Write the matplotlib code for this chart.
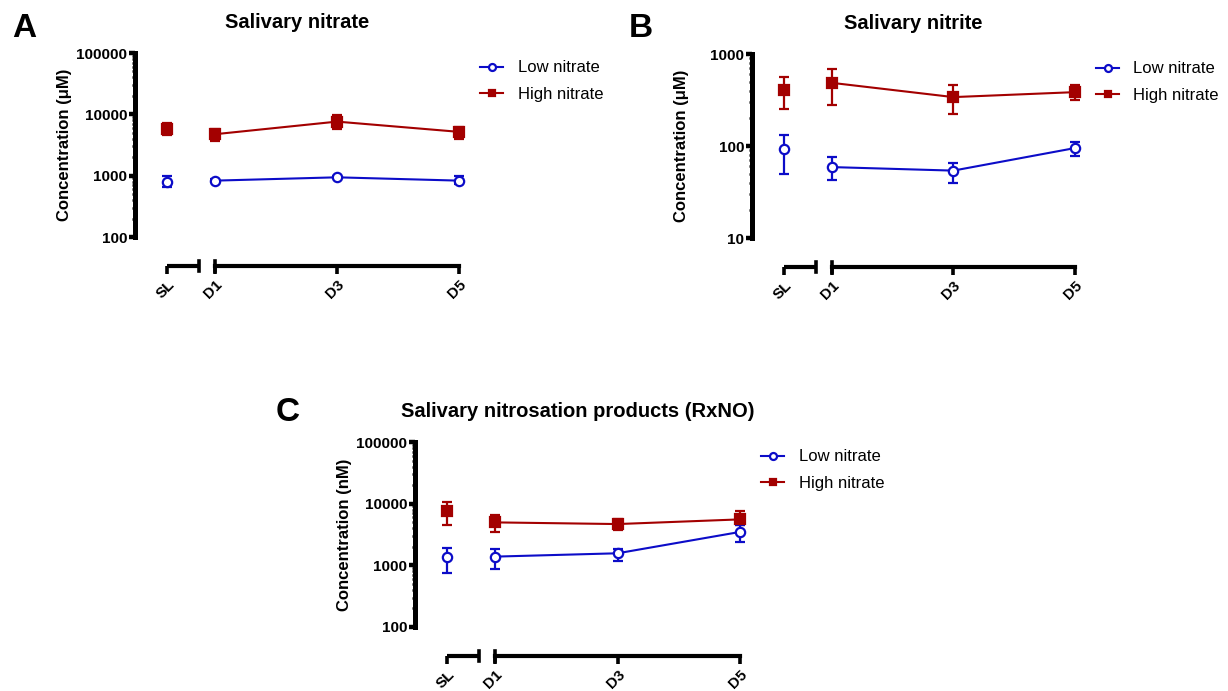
import numpy as np
import matplotlib.pyplot as plt
import matplotlib.transforms as mtransforms
from matplotlib.ticker import LogLocator, NullFormatter

plt.rcParams['font.family'] = ['Liberation Sans', 'DejaVu Sans']

W, H = 1228, 691

# x categories (SL sits left of the axis break)
days = ['SL', 'D1', 'D3', 'D5']
x_pos = [0.22, 1, 3, 5]

# Panel A - salivary nitrate (uM): mean, lower bound, upper bound
nitrate_low = [800, 830, 940, 830]
nitrate_low_lo = [650, 790, 900, 720]
nitrate_low_hi = [975, 870, 980, 975]
nitrate_high = [5860, 4740, 7610, 5180]
nitrate_high_lo = [4680, 3700, 5710, 3930]
nitrate_high_hi = [7140, 5720, 9750, 6230]

# Panel B - salivary nitrite (uM)
nitrite_low = [92, 59, 54, 95]
nitrite_low_lo = [50, 43, 40, 78]
nitrite_low_hi = [133, 75, 66, 111]
nitrite_high = [408, 486, 340, 385]
nitrite_high_lo = [254, 276, 224, 319]
nitrite_high_hi = [560, 689, 455, 463]

# Panel C - RxNO (nM)
rxno_low = [1350, 1385, 1568, 3480]
rxno_low_lo = [750, 883, 1160, 2390]
rxno_low_hi = [1915, 1840, 1840, 4580]
rxno_high = [7500, 4970, 4670, 5560]
rxno_high_lo = [4560, 3420, 3680, 4560]
rxno_high_hi = [10600, 6620, 5640, 7500]

blue = '#0C0CC8'
red = '#A30000'

fig = plt.figure(figsize=(W / 100, H / 100), dpi=100)


def add_axes_px(left, top, right, bottom):
    return fig.add_axes([left / W, 1 - bottom / H, (right - left) / W, (bottom - top) / H])


def draw_series(ax, mean, lo, hi, color, marker, face, label):
    mean = np.array(mean, dtype=float)
    yerr = [mean - np.array(lo), np.array(hi) - mean]
    ax.errorbar(x_pos, mean, yerr=yerr, fmt='none', ecolor=color, elinewidth=1.6,
                capsize=3.6, capthick=1.6, clip_on=False, zorder=3)
    line, = ax.plot(x_pos[1:], mean[1:], color=color, lw=1.5, marker=marker, ms=6.7,
                    mfc=face, mec=color, mew=1.6, clip_on=False, zorder=4, label=label)
    ax.plot(x_pos[:1], mean[:1], ls='none', marker=marker, ms=6.7,
            mfc=face, mec=color, mew=1.6, clip_on=False, zorder=4)
    return line


def draw_panel(box, letter, letter_xy, title, ylabel, ylim, yticks, low, high):
    ax = add_axes_px(*box)
    h_px = box[3] - box[1]
    hi_line = draw_series(ax, *high, red, 's', red, 'High nitrate')
    lo_line = draw_series(ax, *low, blue, 'o', 'white', 'Low nitrate')

    ax.set_yscale('log')
    ax.set_ylim(*ylim)
    ax.set_xlim(-0.31, 5)
    ax.set_yticks(yticks, [str(t) for t in yticks], fontsize=11, fontweight='bold')
    ax.yaxis.set_minor_locator(LogLocator(subs=range(2, 10), numticks=20))
    ax.yaxis.set_minor_formatter(NullFormatter())
    ax.tick_params(axis='y', which='major', length=4.5, width=3.2, pad=1)
    ax.tick_params(axis='y', which='minor', length=2.5, width=1.8)

    for s in ['top', 'right']:
        ax.spines[s].set_visible(False)
    ax.spines['left'].set_linewidth(3.6)

    # broken x axis below the plot
    off = 29 * 0.72
    ax.spines['bottom'].set_position(('outward', off))
    ax.spines['bottom'].set_bounds(1, 5)
    ax.spines['bottom'].set_linewidth(3)
    ax.set_xticks(x_pos, days, rotation=45, ha='right', rotation_mode='anchor',
                  fontsize=11, fontweight='bold')
    ax.tick_params(axis='x', length=6, width=2.6, pad=2)
    tr = mtransforms.offset_copy(ax.get_xaxis_transform(), fig=fig, y=-off, units='points')
    ax.plot([x_pos[0], 0.74], [0, 0], color='black', lw=3, transform=tr,
            clip_on=False, solid_capstyle='butt')
    d = 5 / h_px
    for xb in [0.74, 1.0]:
        ax.plot([xb, xb], [-d, d], color='black', lw=2.6, transform=tr, clip_on=False)

    ax.set_title(title, fontsize=14.5, fontweight='bold', pad=18)
    ax.set_ylabel(ylabel, fontsize=12, fontweight='bold')
    ax.yaxis.set_label_coords(-63 / (box[2] - box[0]), 0.5)

    ax.legend([lo_line, hi_line], ['Low nitrate', 'High nitrate'],
              loc='upper left', bbox_to_anchor=(1.065, 0.96), frameon=False,
              fontsize=12, handlelength=1.4, handletextpad=0.85, labelspacing=0.68,
              borderpad=0, borderaxespad=0, markerscale=0.75)

    fig.text(letter_xy[0] / W, 1 - letter_xy[1] / H, letter, fontsize=24,
             fontweight='bold', va='baseline')
    return ax


draw_panel((135, 53, 459, 237), 'A', (12, 37), 'Salivary nitrate', 'Concentration (μM)',
           (100, 100000), [100, 1000, 10000, 100000],
           (nitrate_low, nitrate_low_lo, nitrate_low_hi),
           (nitrate_high, nitrate_high_lo, nitrate_high_hi))

draw_panel((752, 54, 1075, 238), 'B', (629, 37), 'Salivary nitrite', 'Concentration (μM)',
           (10, 1000), [10, 100, 1000],
           (nitrite_low, nitrite_low_lo, nitrite_low_hi),
           (nitrite_high, nitrite_high_lo, nitrite_high_hi))

draw_panel((415, 442, 740, 627), 'C', (276, 421), 'Salivary nitrosation products (RxNO)',
           'Concentration (nM)', (100, 100000), [100, 1000, 10000, 100000],
           (rxno_low, rxno_low_lo, rxno_low_hi),
           (rxno_high, rxno_high_lo, rxno_high_hi))

fig.savefig('out.png', dpi=100)
